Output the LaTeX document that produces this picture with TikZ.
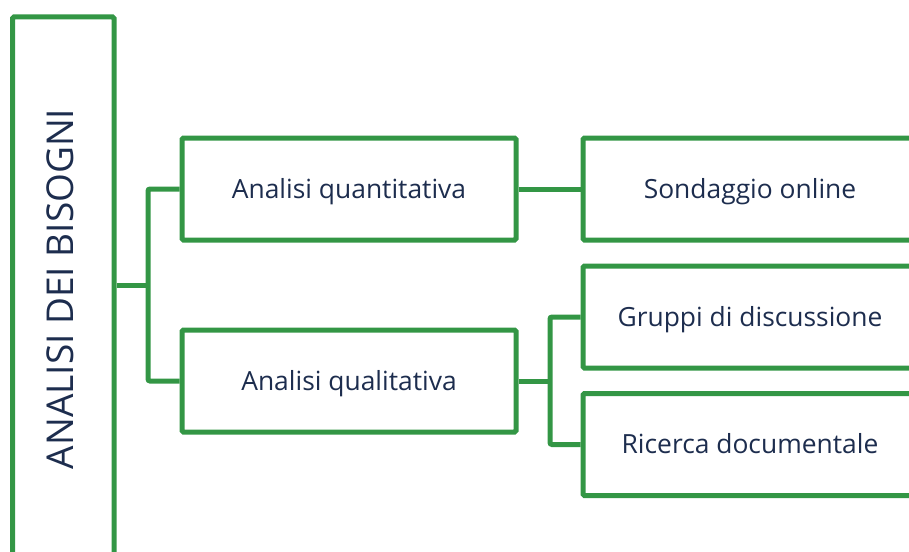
\documentclass[tikz,border=0pt]{standalone}
\usepackage{fontspec}
\setmainfont{Open Sans}
\usepackage{xcolor}
\usepackage{tikz}

\definecolor{verde}{HTML}{339645}
\definecolor{blunotte}{HTML}{1D2D4E}

\begin{document}
\begin{tikzpicture}[
    x=1pt, y=-1pt,
    every node/.style={text=blunotte},
    box/.style={draw=verde, line width=5pt, rounded corners=1.5pt,
        minimum width=334pt, minimum height=102pt, inner sep=0pt,
        text height=18.9pt, text depth=0pt,
        font=\fontsize{26.4}{30}\selectfont},
    titolo/.style={draw=verde, line width=5pt, rounded corners=1.5pt,
        minimum width=544pt, minimum height=101.5pt, inner sep=0pt,
        text height=26.4pt, text depth=6pt,
        rotate=90, font=\fontsize{37}{42}\selectfont},
    ramo/.style={draw=verde, line width=5pt, rounded corners=2pt},
]
\useasboundingbox (0,0) rectangle (909,551);

% Titolo verticale
\node[titolo] (bisogni) at (63.25,289) {ANALISI DEI BISOGNI};

% Livello 1
\node[box] (quanti) at (349,189) {Analisi quantitativa};
\node[box] (quali) at (349,381) {Analisi qualitativa};

% Livello 2
\node[box] (sondaggio) at (750,189) {Sondaggio online};
\node[box] (gruppi) at (750,317) {Gruppi di discussione};
\node[box] (ricerca) at (750,444.5) {Ricerca documentale};

% Collegamenti
\coordinate (ramo1) at (148,285);
\coordinate (ramo2) at (550,381);
\draw[ramo] (ramo1 -| bisogni.south) -- (ramo1);
\draw[ramo] (quanti.west) -| (ramo1) |- (quali.west);
\draw[ramo] (quanti.east) -- (sondaggio.west);
\draw[ramo] (quali.east) -- (ramo2);
\draw[ramo] (gruppi.west) -| (ramo2) |- (ricerca.west);

\end{tikzpicture}
\end{document}
